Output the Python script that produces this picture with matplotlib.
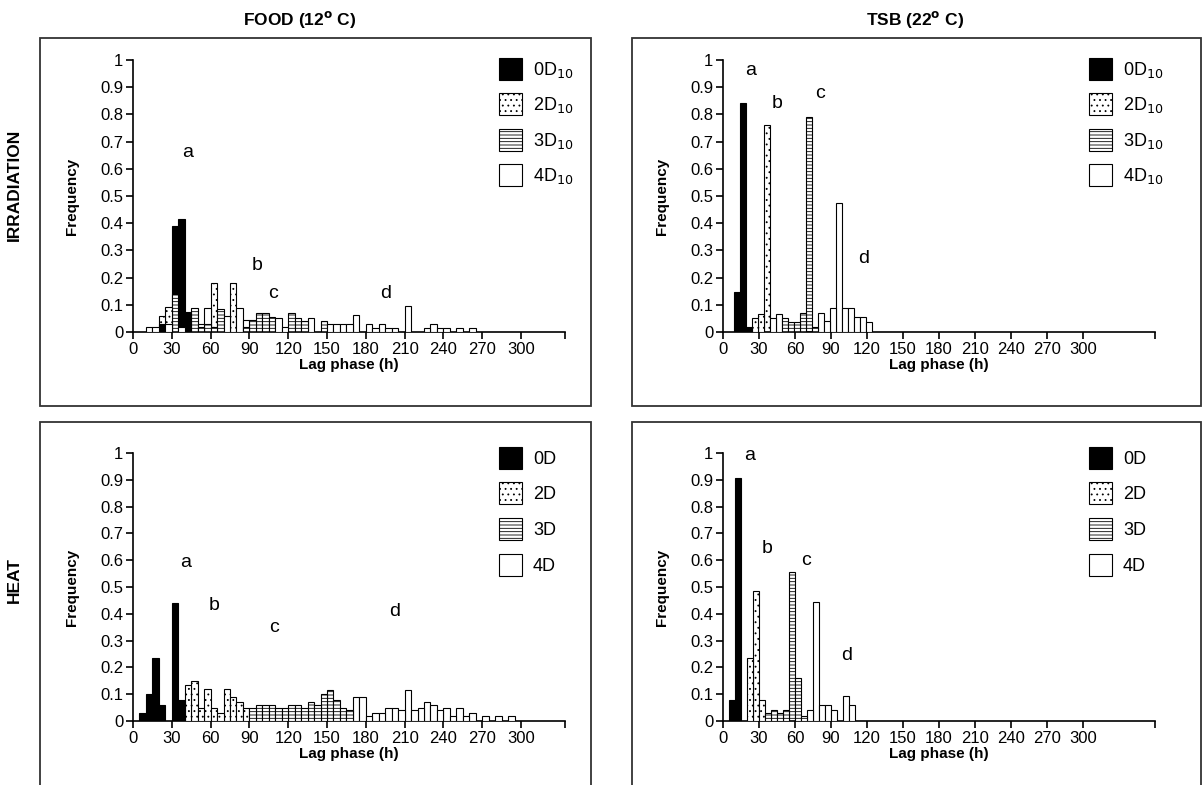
import matplotlib
matplotlib.use("Agg")
import matplotlib.pyplot as plt
from matplotlib.patches import Patch, Rectangle

plt.rcParams['font.family'] = ['Liberation Sans', 'DejaVu Sans']
plt.rcParams['hatch.linewidth'] = 0.6
plt.rcParams['hatch.color'] = 'black'

BIN = 5  # histogram bin width (h)

# ---- FOOD (12 C), irradiation: bin left edges and frequencies ----
fi_0d_x = [20, 30, 35, 40]
fi_0d_y = [0.03, 0.39, 0.415, 0.072]
fi_2d_x = [20, 25, 60, 75]
fi_2d_y = [0.06, 0.093, 0.18, 0.18]
fi_3d_x = [30, 45, 50, 55, 60, 65, 85, 90, 95, 100, 105, 120, 125, 130, 145]
fi_3d_y = [0.14, 0.087, 0.02, 0.03, 0.02, 0.085, 0.02, 0.045, 0.07, 0.07, 0.055,
           0.07, 0.05, 0.04, 0.04]
fi_4d_x = [10, 15, 25, 35, 50, 55, 70, 80, 85, 110, 115, 135, 150, 155, 160, 165,
           170, 180, 185, 190, 195, 200, 210, 225, 230, 235, 240, 250, 260]
fi_4d_y = [0.018, 0.018, 0.03, 0.02, 0.03, 0.09, 0.06, 0.09, 0.045, 0.05, 0.02,
           0.05, 0.03, 0.03, 0.03, 0.03, 0.062, 0.03, 0.015, 0.03, 0.015, 0.015,
           0.095, 0.015, 0.03, 0.015, 0.015, 0.015, 0.015]

# ---- TSB (22 C), irradiation ----
ti_0d_x = [9, 14, 19]
ti_0d_y = [0.147, 0.843, 0.02]
ti_2d_x = [24, 29, 34]
ti_2d_y = [0.05, 0.065, 0.76]
ti_3d_x = [49, 54, 59, 64, 69, 74]
ti_3d_y = [0.05, 0.035, 0.035, 0.07, 0.79, 0.02]
ti_4d_x = [39, 44, 79, 84, 89, 94, 99, 104, 109, 114, 119]
ti_4d_y = [0.05, 0.065, 0.07, 0.04, 0.09, 0.475, 0.09, 0.09, 0.055, 0.055, 0.035]

# ---- FOOD (12 C), heat ----
fh_0d_x = [5, 10, 15, 20, 30, 35]
fh_0d_y = [0.03, 0.10, 0.235, 0.06, 0.44, 0.08]
fh_2d_x = [40, 45, 50, 55, 60, 65, 70, 75, 80, 85]
fh_2d_y = [0.135, 0.15, 0.05, 0.12, 0.05, 0.03, 0.12, 0.09, 0.07, 0.05]
fh_3d_x = [90, 95, 100, 105, 110, 115, 120, 125, 130, 135, 140, 145, 150, 155, 160, 165]
fh_3d_y = [0.05, 0.06, 0.06, 0.06, 0.05, 0.05, 0.06, 0.06, 0.05, 0.07, 0.06, 0.1,
           0.115, 0.08, 0.05, 0.04]
fh_4d_x = [170, 175, 180, 185, 190, 195, 200, 205, 210, 215, 220, 225, 230, 235,
           240, 245, 250, 255, 260, 270, 280, 290]
fh_4d_y = [0.09, 0.09, 0.02, 0.03, 0.03, 0.05, 0.05, 0.04, 0.115, 0.04, 0.05, 0.07,
           0.06, 0.04, 0.05, 0.02, 0.05, 0.02, 0.03, 0.02, 0.02, 0.02]

# ---- TSB (22 C), heat ----
th_0d_x = [5, 10]
th_0d_y = [0.08, 0.905]
th_2d_x = [20, 25, 30]
th_2d_y = [0.235, 0.485, 0.08]
th_3d_x = [35, 40, 45, 50, 55, 60, 65]
th_3d_y = [0.03, 0.04, 0.03, 0.04, 0.555, 0.16, 0.02]
th_4d_x = [70, 75, 80, 85, 90, 100, 105]
th_4d_y = [0.04, 0.445, 0.06, 0.06, 0.04, 0.095, 0.06]

labels_irr = ['0D$_{10}$', '2D$_{10}$', '3D$_{10}$', '4D$_{10}$']
labels_heat = ['0D', '2D', '3D', '4D']
col_titles = ['FOOD (12$^{\\mathbf{o}}$ C)', 'TSB (22$^{\\mathbf{o}}$ C)']
row_titles = ['IRRADIATION', 'HEAT']
x_ticks = list(range(0, 301, 30))
y_ticks = [0, 0.1, 0.2, 0.3, 0.4, 0.5, 0.6, 0.7, 0.8, 0.9, 1]
y_ticklabels = ['0', '0.1', '0.2', '0.3', '0.4', '0.5', '0.6', '0.7', '0.8', '0.9', '1']

letters = {
    'fi': [('a', 42, 0.66), ('b', 96, 0.246), ('c', 108.5, 0.143), ('d', 195, 0.143)],
    'ti': [('a', 23, 0.963), ('b', 44.7, 0.84), ('c', 81, 0.877), ('d', 117, 0.27)],
    'fh': [('a', 40.5, 0.59), ('b', 63, 0.43), ('c', 109, 0.35), ('d', 202, 0.41)],
    'th': [('a', 22.5, 0.99), ('b', 36.4, 0.645), ('c', 69, 0.60), ('d', 103, 0.246)],
}

styles = [dict(facecolor='black', hatch=None),
          dict(facecolor='white', hatch='...'),
          dict(facecolor='white', hatch='-----'),
          dict(facecolor='white', hatch=None)]

W, H = 1203, 785
fig = plt.figure(figsize=(W / 100, H / 100), dpi=100)


def px_box(x0, y0, x1, y1):
    return [x0 / W, 1 - y1 / H, (x1 - x0) / W, (y1 - y0) / H]


# panel frames
for (x0, y0, x1, y1) in [(40, 38, 591, 406), (632, 38, 1201, 406),
                         (40, 422, 591, 790), (632, 422, 1201, 790)]:
    fig.patches.append(Rectangle((x0 / W, 1 - y1 / H), (x1 - x0) / W, (y1 - y0) / H,
                                 transform=fig.transFigure, fill=False,
                                 edgecolor='#333333', linewidth=1.3))

panels = [
    ('fi', px_box(133, 60, 565, 332), 334, 1.035,
     [(fi_0d_x, fi_0d_y), (fi_2d_x, fi_2d_y), (fi_3d_x, fi_3d_y), (fi_4d_x, fi_4d_y)], labels_irr),
    ('ti', px_box(723, 60, 1155, 332), 360, 1.035,
     [(ti_0d_x, ti_0d_y), (ti_2d_x, ti_2d_y), (ti_3d_x, ti_3d_y), (ti_4d_x, ti_4d_y)], labels_irr),
    ('fh', px_box(133, 453, 565, 721), 334, 1.05,
     [(fh_0d_x, fh_0d_y), (fh_2d_x, fh_2d_y), (fh_3d_x, fh_3d_y), (fh_4d_x, fh_4d_y)], labels_heat),
    ('th', px_box(723, 453, 1155, 721), 360, 1.05,
     [(th_0d_x, th_0d_y), (th_2d_x, th_2d_y), (th_3d_x, th_3d_y), (th_4d_x, th_4d_y)], labels_heat),
]

for key, rect, xmax, leg_top, series, labs in panels:
    ax = fig.add_axes(rect)
    for (xs, ys), st in zip(series, styles):
        for x, y in zip(xs, ys):
            # taller bars sit behind shorter ones so every bar stays visible
            ax.bar(x, y, width=BIN, align='edge', facecolor=st['facecolor'],
                   hatch=st['hatch'], edgecolor='black', linewidth=0.8,
                   zorder=3 - y)
    ax.set_xlim(0, xmax)
    ax.set_ylim(0, 1)
    ax.set_xticks(x_ticks + [xmax])
    ax.set_xticklabels([str(t) for t in x_ticks] + [''])
    ax.set_yticks(y_ticks)
    ax.set_yticklabels(y_ticklabels)
    for s in ('top', 'right'):
        ax.spines[s].set_visible(False)
    for s in ('left', 'bottom'):
        ax.spines[s].set_linewidth(1.2)
    ax.tick_params(axis='both', labelsize=12, length=5, width=1.2, direction='out', pad=2)
    ax.set_xlabel('Lag phase (h)', fontsize=11, fontweight='bold', labelpad=1)
    ax.set_ylabel('Frequency', fontsize=11, fontweight='bold', labelpad=15)
    for t, lx, ly in letters[key]:
        ax.text(lx, ly, t, fontsize=14, ha='center', va='center')
    handles = [Patch(facecolor=st['facecolor'], hatch=st['hatch'], edgecolor='black',
                     linewidth=0.8) for st in styles]
    ax.legend(handles, labs, loc='upper left', bbox_to_anchor=(0.83, leg_top),
              frameon=False, fontsize=13, handlelength=1.3, handleheight=1.5,
              labelspacing=0.75, handletextpad=0.6, borderaxespad=0)

fig.text(300 / W, 1 - 20 / H, col_titles[0], ha='center', va='center',
         fontsize=12.5, fontweight='bold')
fig.text(915 / W, 1 - 20 / H, col_titles[1], ha='center', va='center',
         fontsize=12.5, fontweight='bold')
fig.text(14 / W, 1 - 185 / H, row_titles[0], ha='center', va='center', rotation=90,
         fontsize=12.5, fontweight='bold')
fig.text(14 / W, 1 - 580 / H, row_titles[1], ha='center', va='center', rotation=90,
         fontsize=12.5, fontweight='bold')

fig.savefig('out.png', dpi=100)
